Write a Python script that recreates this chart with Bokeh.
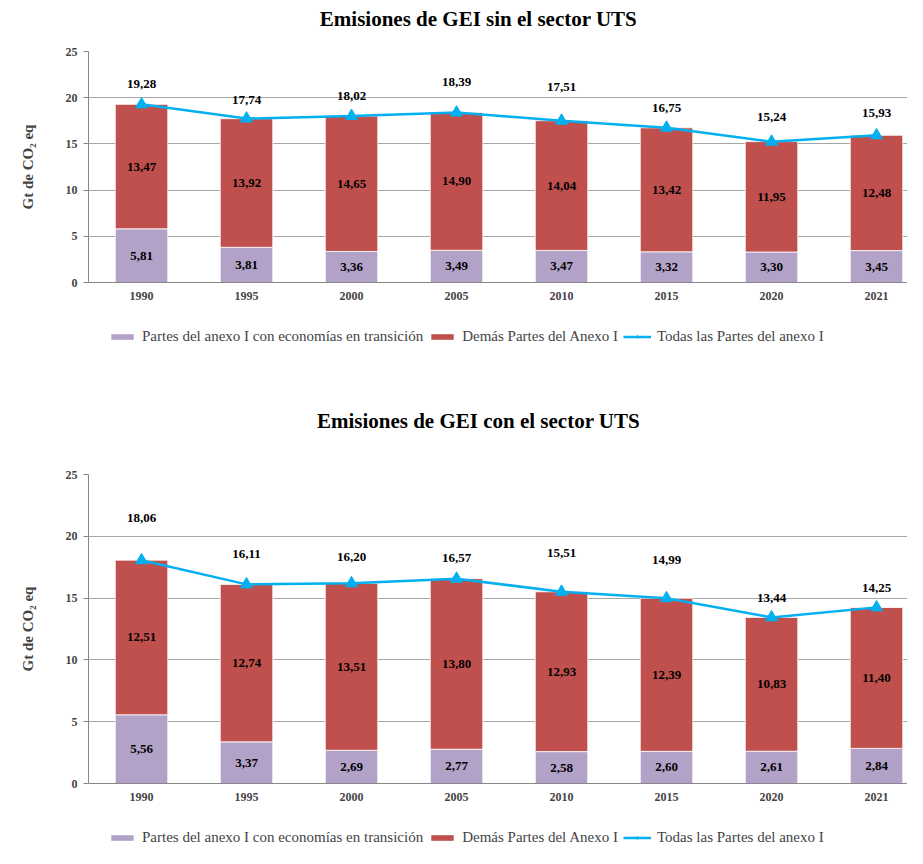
from bokeh.plotting import figure
from bokeh.models import (ColumnDataSource, Range1d, FixedTicker, Legend, LegendItem,
                          LabelSet, Label)
from bokeh.layouts import column
from bokeh.embed import file_html
from bokeh.resources import INLINE
from bokeh.core.properties import value

# ---------------- data ----------------
years = ["1990", "1995", "2000", "2005", "2010", "2015", "2020", "2021"]

sin_transicion = [5.81, 3.81, 3.36, 3.49, 3.47, 3.32, 3.30, 3.45]
sin_demas = [13.47, 13.92, 14.65, 14.90, 14.04, 13.42, 11.95, 12.48]
sin_total = [19.28, 17.74, 18.02, 18.39, 17.51, 16.75, 15.24, 15.93]

con_transicion = [5.56, 3.37, 2.69, 2.77, 2.58, 2.60, 2.61, 2.84]
con_demas = [12.51, 12.74, 13.51, 13.80, 12.93, 12.39, 10.83, 11.40]
con_total = [18.06, 16.11, 16.20, 16.57, 15.51, 14.99, 13.44, 14.25]

y_ticks = [0, 5, 10, 15, 20, 25]

title_sin = "Emisiones de GEI sin el sector UTS"
title_con = "Emisiones de GEI con el sector UTS"
y_label = "Gt de CO\u2082 eq"
leg_trans = "Partes del anexo I con economías en transición"
leg_demas = "Demás Partes del Anexo I"
leg_total = "Todas las Partes del anexo I"

# ---------------- style ----------------
FONT = "Liberation Serif"
C_TRANS = "#B3A2C7"
C_DEMAS = "#C0504D"
C_LINE = "#00B0F0"
GRID = "#A6A6A6"
AXIS = "#888888"
W = 907
LEFT = 88
# pixel offsets of the total labels above the line points
off_sin = [20, 19, 20, 31, 34, 20, 25, 22]
off_con = [42, 30, 26, 21, 39, 38, 19, 19]


def fmt(v):
    return f"{v:.2f}".replace(".", ",")


def strip(height):
    p = figure(width=W, height=height, output_backend="svg", toolbar_location=None,
               x_range=Range1d(0, 1), y_range=Range1d(0, 1),
               min_border_left=LEFT, min_border_right=0, min_border_top=0,
               min_border_bottom=0, title=None)
    p.axis.visible = False
    p.grid.visible = False
    p.outline_line_color = None
    return p


def make_title(height, text, center_from_top):
    p = strip(height)
    p.add_layout(Label(x=478 - LEFT, y=height - center_from_top, x_units="screen",
                       y_units="screen", text=text, text_align="center",
                       text_baseline="middle", text_font=FONT, text_font_size="21px",
                       text_font_style="bold", text_color="black"))
    return p


def make_chart(trans, demas, total, offsets, height, b_bottom):
    n = len(years)
    xs = list(range(n))
    src = ColumnDataSource(dict(
        x=xs,
        trans=trans,
        top=[a + b for a, b in zip(trans, demas)],
        total=total,
        trans_mid=[a / 2 for a in trans],
        demas_mid=[a + b / 2 for a, b in zip(trans, demas)],
        trans_lbl=[fmt(v) for v in trans],
        demas_lbl=[fmt(v) for v in demas],
        total_lbl=[fmt(v) for v in total],
        off=offsets,
    ))

    p = figure(width=W, height=height, output_backend="svg", toolbar_location=None,
               x_range=Range1d(-0.505, 7.295), y_range=Range1d(0, 25),
               min_border_left=LEFT, min_border_right=0,
               min_border_top=8, min_border_bottom=b_bottom, title=None)
    p.outline_line_color = None
    p.background_fill_color = "white"
    p.border_fill_color = "white"

    p.vbar(x="x", bottom=0, top="trans", width=0.5, source=src,
           fill_color=C_TRANS, line_color="white", line_width=0.8)
    p.vbar(x="x", bottom="trans", top="top", width=0.5, source=src,
           fill_color=C_DEMAS, line_color="white", line_width=0.8)
    p.line(x="x", y="total", source=src, line_color=C_LINE, line_width=2.5)
    p.scatter(x="x", y="total", source=src, marker="triangle", size=12,
              fill_color=C_LINE, line_color=C_LINE)

    for col_y, col_t in (("trans_mid", "trans_lbl"), ("demas_mid", "demas_lbl")):
        p.text(x="x", y=col_y, text=col_t, source=src, text_align="center",
               text_baseline="middle", text_font=value(FONT), text_font_size="13px",
               text_font_style="bold", text_color="black")

    lbl = LabelSet(x="x", y="total", text="total_lbl", y_offset="off", source=src,
                   text_align="center", text_baseline="middle", text_font=FONT,
                   text_font_size="13px", text_font_style="bold", text_color="black")
    p.add_layout(lbl)

    # axes
    p.xaxis.ticker = FixedTicker(ticks=xs)
    p.xaxis.major_label_overrides = {i: y for i, y in enumerate(years)}
    p.xaxis.major_tick_line_color = None
    p.xaxis.minor_tick_line_color = None
    p.xaxis.axis_line_color = AXIS
    p.xaxis.major_label_text_font = FONT
    p.xaxis.major_label_text_font_size = "12px"
    p.xaxis.major_label_text_font_style = "bold"
    p.xaxis.major_label_standoff = 3

    p.yaxis.ticker = FixedTicker(ticks=y_ticks)
    p.yaxis.axis_line_color = AXIS
    p.yaxis.major_tick_line_color = AXIS
    p.yaxis.major_tick_out = 5
    p.yaxis.major_tick_in = 0
    p.yaxis.minor_tick_line_color = None
    p.yaxis.major_label_text_font = FONT
    p.yaxis.major_label_text_font_size = "12px"
    p.yaxis.major_label_text_font_style = "bold"
    p.yaxis.major_label_standoff = 6
    p.yaxis.axis_label = y_label
    p.yaxis.axis_label_text_font = FONT
    p.yaxis.axis_label_text_font_size = "15px"
    p.yaxis.axis_label_text_font_style = "bold"
    p.yaxis.axis_label_standoff = 27

    p.xgrid.grid_line_color = None
    p.ygrid.grid_line_color = GRID
    p.ygrid.ticker = FixedTicker(ticks=y_ticks)
    return p


def make_legend(height, top_px):
    """A strip that only carries the legend; proxies sit outside the visible range."""
    p = strip(height)
    r_trans = p.vbar(x=[-10], top=[-10], width=0.5, fill_color=C_TRANS, line_color=None)
    r_demas = p.vbar(x=[-10], top=[-10], width=0.5, fill_color=C_DEMAS, line_color=None)
    r_line = p.line(x=[-10, -9], y=[-10, -10], line_color=C_LINE, line_width=2.5)
    r_mark = p.scatter(x=[-10], y=[-10], marker="triangle", size=7,
                       fill_color=C_LINE, line_color=C_LINE)
    lab_h = 16
    legend = Legend(items=[
        LegendItem(label=leg_trans, renderers=[r_trans]),
        LegendItem(label=leg_demas, renderers=[r_demas]),
        LegendItem(label=leg_total, renderers=[r_line, r_mark]),
    ], orientation="horizontal", location=(108 - LEFT, height - top_px - lab_h))
    legend.label_text_font = FONT
    legend.label_text_font_size = "15px"
    legend.glyph_width = 28
    legend.glyph_height = 7
    legend.label_height = lab_h
    legend.label_standoff = 6
    legend.spacing = 5
    legend.padding = 0
    legend.margin = 0
    legend.border_line_color = None
    legend.background_fill_alpha = 0
    p.add_layout(legend, "center")
    return p


t1 = make_title(43, title_sin, 18)
p1 = make_chart(sin_transicion, sin_demas, sin_total, off_sin, 267, 28)
l1 = make_legend(82, 19)
t2 = make_title(74, title_con, 28)
p2 = make_chart(con_transicion, con_demas, con_total, off_con, 344, 27)
l2 = make_legend(38, 20)

layout = column(t1, p1, l1, t2, p2, l2, spacing=0)
open("out.html", "w").write(file_html(layout, INLINE))
